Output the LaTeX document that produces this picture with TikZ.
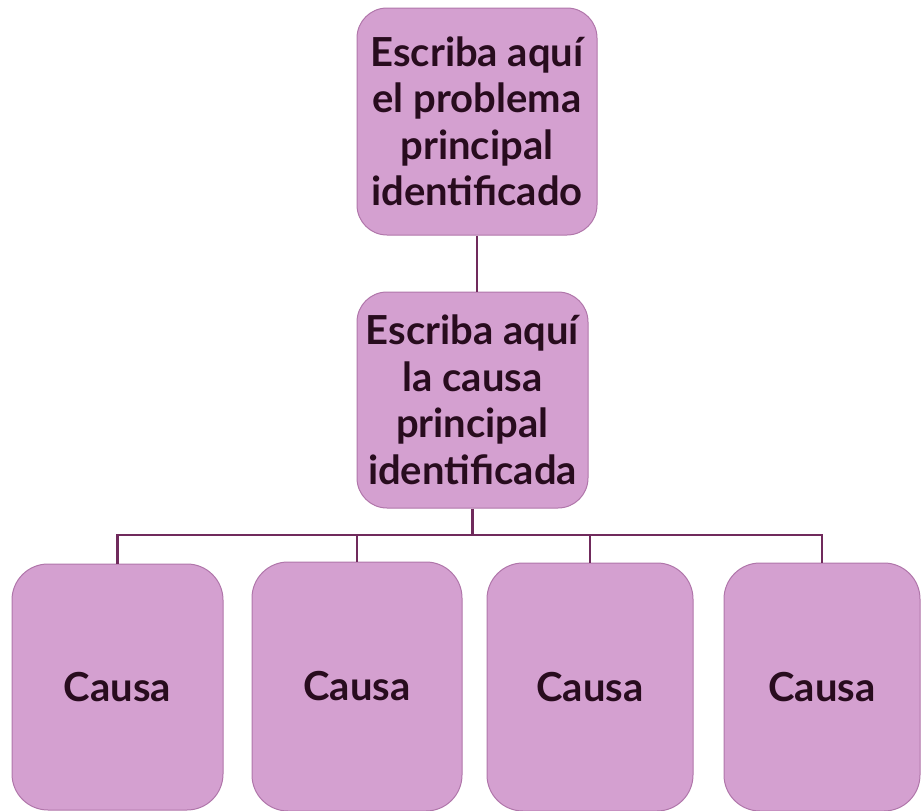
\documentclass[tikz,border=0pt]{standalone}
\usepackage{fontspec}
\setmainfont{Lato}
\usetikzlibrary{calc}
\definecolor{boxfill}{RGB}{212,160,208}
\definecolor{boxline}{RGB}{176,118,170}
\definecolor{linkcol}{RGB}{112,42,92}
\definecolor{txtcol}{RGB}{40,12,30}
\tikzset{
  card/.style={draw=boxline, line width=1pt, fill=boxfill, rounded corners=30pt,
    inner sep=0pt, align=center, text=txtcol,
    font=\fontsize{40}{46.5}\selectfont\bfseries},
  link/.style={draw=linkcol, line width=2.8pt}
}
\begin{document}
\begin{tikzpicture}[x=1pt,y=-1pt]
\useasboundingbox (0,0) rectangle (922,811);
\node[card, minimum width=240pt, minimum height=227pt] (top) at (477,121.5)
  {Escriba aquí\\el problema\\principal\\identificado};
\node[card, minimum width=231pt, minimum height=216pt] (mid) at (472.5,400)
  {Escriba aquí\\la causa\\principal\\identificada};
\node[card, rounded corners=36pt, minimum width=211pt, minimum height=246pt] (b1) at (117.5,687) {Causa};
\node[card, rounded corners=36pt, minimum width=210pt, minimum height=249pt] (b2) at (357,686.5) {Causa};
\node[card, rounded corners=36pt, minimum width=206pt, minimum height=248pt] (b3) at (590,687) {Causa};
\node[card, rounded corners=36pt, minimum width=196pt, minimum height=248pt] (b4) at (822,687) {Causa};
\coordinate (bar) at (474,535);
\draw[link] (top.south) -- (top.south |- mid.north);
\draw[link] (mid.south) -- (mid.south |- bar);
\draw[link] ($(b1.north |- bar)+(-1.4,0)$) -- ($(b4.north |- bar)+(1.4,0)$);
\foreach \b in {b1,b2,b3,b4} \draw[link] (\b.north) -- (\b.north |- bar);
\end{tikzpicture}
\end{document}
